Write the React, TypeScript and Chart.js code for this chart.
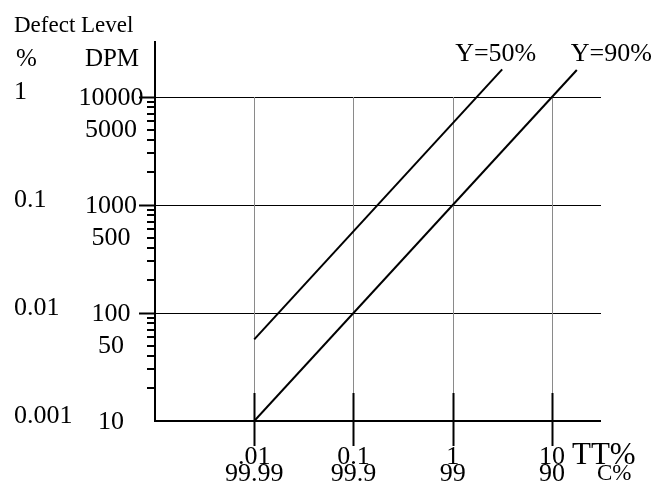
import React, { useEffect, useRef } from "react";
import { Chart, registerables } from "chart.js";

Chart.register(...registerables);

// ---- data ----
const xTickValues = [0.01, 0.1, 1, 10];
const xLabelsTT = [".01", "0.1", "1", "10"];
const xLabelsC = ["99.99", "99.9", "99", "90"];

const yMajorValues = [10, 100, 1000, 10000];
const yPercentLabels = ["0.001", "0.01", "0.1", "1"];
const yGridValues = [100, 1000, 10000];
const yDpmLabelValues = [10, 50, 100, 500, 1000, 5000, 10000];
const yMinorValues = [
  20, 30, 40, 50, 60, 70, 80, 90,
  200, 300, 400, 500, 600, 700, 800, 900,
  2000, 3000, 4000, 5000, 6000, 7000, 8000, 9000,
];

const seriesNames = ["Y=50%", "Y=90%"];
const tt50 = [0.01, 3.15];
const dpm50 = [57, 18000];
const tt90 = [0.01, 17.8];
const dpm90 = [10, 17800];

const FONT = "'Liberation Serif', 'Times New Roman', serif";

const labelPlugin = {
  id: "defectLabels",
  beforeDatasetsDraw(chart: any) {
    const { ctx, chartArea } = chart;
    const xs = chart.scales.x;
    const ys = chart.scales.y;
    ctx.save();
    // horizontal grid lines
    ctx.strokeStyle = "#000";
    ctx.lineWidth = 1;
    yGridValues.forEach((v) => {
      const y = Math.round(ys.getPixelForValue(v)) + 0.5;
      ctx.beginPath();
      ctx.moveTo(chartArea.left, y);
      ctx.lineTo(chartArea.right, y);
      ctx.stroke();
    });
    // vertical grid lines (gray) + heavy ticks
    const yTop = ys.getPixelForValue(10000);
    const yBottom = chartArea.bottom;
    xTickValues.forEach((v) => {
      const x = Math.round(xs.getPixelForValue(v)) + 0.5;
      ctx.strokeStyle = "#8a8a8a";
      ctx.lineWidth = 1;
      ctx.beginPath();
      ctx.moveTo(x, yTop);
      ctx.lineTo(x, yBottom - 28);
      ctx.stroke();
      ctx.strokeStyle = "#000";
      ctx.lineWidth = 2;
      ctx.beginPath();
      ctx.moveTo(x, yBottom - 28);
      ctx.lineTo(x, yBottom + 25);
      ctx.stroke();
    });
    // axes
    ctx.strokeStyle = "#000";
    ctx.lineWidth = 2;
    ctx.beginPath();
    ctx.moveTo(chartArea.left, chartArea.top);
    ctx.lineTo(chartArea.left, chartArea.bottom);
    ctx.lineTo(chartArea.right, chartArea.bottom);
    ctx.stroke();
    // y ticks
    yGridValues.forEach((v) => {
      const y = Math.round(ys.getPixelForValue(v)) + 0.5;
      ctx.beginPath();
      ctx.moveTo(chartArea.left - 16, y);
      ctx.lineTo(chartArea.left, y);
      ctx.stroke();
    });
    yMinorValues.forEach((v) => {
      const y = Math.round(ys.getPixelForValue(v));
      ctx.beginPath();
      ctx.moveTo(chartArea.left - 8, y);
      ctx.lineTo(chartArea.left, y);
      ctx.stroke();
    });
    ctx.restore();
  },
  afterDatasetsDraw(chart: any) {
    const { ctx, chartArea } = chart;
    const xs = chart.scales.x;
    const ys = chart.scales.y;
    ctx.save();
    ctx.fillStyle = "#000";
    ctx.font = `23px ${FONT}`;
    ctx.textBaseline = "alphabetic";
    ctx.textAlign = "left";
    ctx.fillText("Defect Level", 14, 32);
    ctx.font = `25px ${FONT}`;
    ctx.fillText("%", 16, 66);
    ctx.textAlign = "center";
    ctx.fillText("DPM", 112, 66);

    // y labels
    ctx.font = `26px ${FONT}`;
    ctx.textBaseline = "middle";
    ctx.textAlign = "left";
    yMajorValues.forEach((v, i) => {
      const y = ys.getPixelForValue(v);
      ctx.fillText(yPercentLabels[i], 14, y - 5);
    });
    ctx.textAlign = "center";
    yDpmLabelValues.forEach((v) => {
      const y = ys.getPixelForValue(v);
      ctx.fillText(String(v), 111, y + 1);
    });

    // x labels
    xTickValues.forEach((v, i) => {
      const x = xs.getPixelForValue(v);
      ctx.fillText(xLabelsTT[i], x, chartArea.bottom + 36);
      ctx.fillText(xLabelsC[i], x, chartArea.bottom + 53);
    });
    ctx.textAlign = "left";
    ctx.font = `31px ${FONT}`;
    ctx.fillText("TT%", 572, chartArea.bottom + 35);
    ctx.font = `23px ${FONT}`;
    ctx.fillText("C%", 597, chartArea.bottom + 53);

    // series labels
    ctx.font = `26px ${FONT}`;
    const ds = chart.data.datasets;
    const offsets = [-47, -6];
    ds.forEach((d: any, i: number) => {
      const last = d.data[d.data.length - 1];
      const px = xs.getPixelForValue(last.x);
      ctx.textBaseline = "alphabetic";
      ctx.fillText(seriesNames[i], px + offsets[i], 61);
    });
    ctx.restore();
  },
};

export default function App() {
  const ref = useRef<HTMLCanvasElement | null>(null);
  useEffect(() => {
    if (!ref.current) return;
    const mk = (xs: number[], ys: number[]) => xs.map((x, i) => ({ x, y: ys[i] }));
    const chart = new Chart(ref.current, {
      type: "scatter",
      data: {
        datasets: [
          {
            label: seriesNames[0],
            data: mk(tt50, dpm50),
            showLine: true,
            borderColor: "#000",
            borderWidth: 2,
            pointRadius: 0,
          },
          {
            label: seriesNames[1],
            data: mk(tt90, dpm90),
            showLine: true,
            borderColor: "#000",
            borderWidth: 2,
            pointRadius: 0,
          },
        ],
      },
      options: {
        responsive: false,
        animation: false,
        devicePixelRatio: 1,
        layout: { padding: { left: 155, right: 56, top: 41, bottom: 78 } },
        plugins: { legend: { display: false }, tooltip: { enabled: false } },
        scales: {
          x: { type: "logarithmic", min: 0.001, max: 31.2, display: false },
          y: { type: "logarithmic", min: 10, max: 33000, display: false },
        },
      },
      plugins: [labelPlugin],
    });
    return () => chart.destroy();
  }, []);
  return (
    <div style={{ position: "fixed", left: 0, top: 0, width: 657, height: 499, background: "#fff" }}>
      <canvas ref={ref} width={657} height={499} style={{ width: 657, height: 499 }} />
    </div>
  );
}
